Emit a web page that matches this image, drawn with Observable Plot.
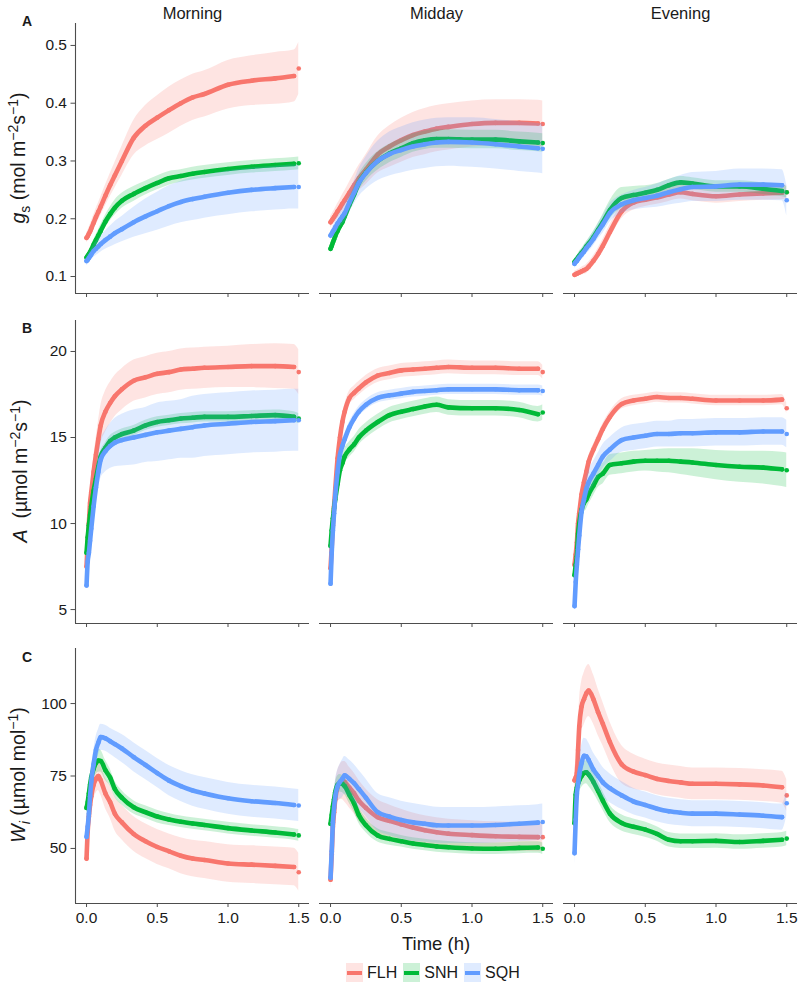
<!DOCTYPE html>
<html>
<head>
<meta charset="utf-8">
<script src="https://cdn.jsdelivr.net/npm/d3@7"></script>
<script src="https://cdn.jsdelivr.net/npm/@observablehq/plot@0.6"></script>
<style>
  body { margin: 0; background: #fff; }
  #fig { position: relative; width: 799px; height: 984px; background: #fff;
         font-family: "Liberation Sans", Arial, Helvetica, sans-serif; color: #1a1a1a; }
  .row { position: absolute; left: 0; }
  .ytitle { position: absolute; left: 19px; white-space: nowrap; font-size: 19.5px;
            transform: translate(-50%, -50%) rotate(-90deg); line-height: 1; }
  .ytitle sup, .ytitle sub { font-size: 0.72em; }
  .letter { position: absolute; left: 22px; font-weight: bold; font-size: 14px; line-height: 1; }
  #xtitle { position: absolute; left: 436px; top: 944px; transform: translate(-50%, -50%);
            font-size: 18.5px; line-height: 1; white-space: nowrap; }
  #legend { position: absolute; left: 346px; top: 963px; display: flex; align-items: center;
            font-size: 16px; line-height: 1; }
  .key { width: 17px; height: 19px; position: relative; margin-right: 4px; }
  .key span { position: absolute; left: 1px; right: 1px; top: 8px; height: 3.5px; }
  .lab { margin-right: 6px; }
</style>
</head>
<body>
<div id="fig">
  <div class="row" id="rowA" style="top:0px"></div>
  <div class="row" id="rowB" style="top:305px"></div>
  <div class="row" id="rowC" style="top:635px"></div>
  <div class="letter" style="top:14px">A</div>
  <div class="letter" style="top:321px">B</div>
  <div class="letter" style="top:650px">C</div>
  <div class="ytitle" style="top:158px"><i>g</i><sub>s</sub> (mol m<sup>−2</sup>s<sup>−1</sup>)</div>
  <div class="ytitle" style="top:471px"><i>A</i>&nbsp; (µmol m<sup>−2</sup>s<sup>−1</sup>)</div>
  <div class="ytitle" style="top:775px"><i>W</i><sub><i>i</i></sub> (µmol mol<sup>−1</sup>)</div>
  <div id="xtitle">Time (h)</div>
  <div id="legend"></div>
</div>
<script>
// ---- time grid (minutes since light change) ----
const minutes = [0,0.5,1,1.5,2,3,4,5,6,8,10,12,15,20,25,30,35,40,45,50,60,70,80,88,90];
const periods = ["Morning","Midday","Evening"];
const genotypes = ["FLH","SNH","SQH"];
const genoColors = ["#F8766D","#00BA38","#619CFF"];
const xTicks = [0, 0.5, 1.0, 1.5];
const gsTicks = [0.1, 0.2, 0.3, 0.4, 0.5];
const aTicks = [5, 10, 15, 20];
const wiTicks = [50, 75, 100];

// ---- gs (mol m-2 s-1) means ----
const gsMorningFLH = [0.167,0.170,0.174,0.178,0.183,0.193,0.203,0.212,0.221,0.240,0.258,0.275,0.300,0.340,0.361,0.375,0.388,0.400,0.410,0.416,0.432,0.439,0.443,0.447,0.460];
const gsMorningSNH = [0.133,0.136,0.139,0.142,0.146,0.155,0.163,0.171,0.179,0.195,0.208,0.219,0.231,0.243,0.253,0.262,0.270,0.274,0.278,0.281,0.286,0.290,0.293,0.295,0.296];
const gsMorningSQH = [0.127,0.129,0.132,0.135,0.138,0.144,0.148,0.152,0.156,0.163,0.169,0.175,0.182,0.194,0.204,0.213,0.222,0.229,0.234,0.238,0.245,0.250,0.253,0.255,0.255];
const gsMiddayFLH = [0.194,0.197,0.200,0.203,0.206,0.213,0.219,0.226,0.232,0.245,0.258,0.270,0.285,0.311,0.325,0.336,0.345,0.351,0.356,0.359,0.364,0.366,0.366,0.365,0.364];
const gsMiddaySNH = [0.148,0.153,0.159,0.164,0.170,0.179,0.187,0.194,0.204,0.224,0.242,0.262,0.280,0.300,0.313,0.322,0.331,0.336,0.338,0.338,0.337,0.337,0.334,0.332,0.331];
const gsMiddaySQH = [0.171,0.174,0.178,0.181,0.185,0.192,0.198,0.204,0.210,0.228,0.245,0.262,0.279,0.300,0.312,0.319,0.325,0.329,0.332,0.333,0.332,0.329,0.325,0.322,0.321];
const gsEveningFLH = [0.103,0.104,0.105,0.106,0.107,0.109,0.111,0.113,0.117,0.127,0.139,0.153,0.177,0.213,0.228,0.233,0.237,0.242,0.246,0.243,0.239,0.242,0.244,0.245,0.246];
const gsEveningSNH = [0.125,0.128,0.130,0.133,0.136,0.141,0.146,0.152,0.157,0.168,0.181,0.194,0.215,0.236,0.241,0.245,0.250,0.258,0.263,0.261,0.256,0.256,0.252,0.248,0.246];
const gsEveningSQH = [0.122,0.125,0.127,0.130,0.133,0.138,0.143,0.149,0.154,0.165,0.178,0.190,0.210,0.225,0.232,0.236,0.240,0.246,0.251,0.255,0.256,0.259,0.259,0.258,0.232];
// ---- gs ribbon half-widths ----
const gsMorningFLHse = [0.008,0.009,0.010,0.011,0.012,0.013,0.014,0.015,0.016,0.018,0.020,0.022,0.025,0.030,0.035,0.038,0.040,0.040,0.040,0.040,0.042,0.043,0.045,0.045,0.045];
const gsMorningSNHse = [0.006,0.006,0.007,0.007,0.008,0.008,0.009,0.009,0.010,0.011,0.012,0.013,0.013,0.013,0.012,0.012,0.012,0.011,0.011,0.011,0.011,0.011,0.011,0.011,0.011];
const gsMorningSQHse = [0.008,0.008,0.009,0.009,0.010,0.011,0.012,0.013,0.014,0.016,0.018,0.020,0.022,0.026,0.030,0.033,0.035,0.036,0.037,0.037,0.038,0.038,0.038,0.038,0.038];
const gsMiddayFLHse = [0.010,0.010,0.011,0.011,0.012,0.013,0.014,0.015,0.016,0.018,0.020,0.022,0.026,0.032,0.036,0.038,0.039,0.040,0.040,0.040,0.040,0.040,0.040,0.040,0.040];
const gsMiddaySNHse = [0.006,0.006,0.007,0.007,0.008,0.009,0.010,0.010,0.011,0.012,0.013,0.014,0.015,0.016,0.016,0.016,0.016,0.016,0.016,0.016,0.016,0.016,0.016,0.016,0.016];
const gsMiddaySQHse = [0.008,0.008,0.009,0.010,0.011,0.012,0.013,0.014,0.016,0.018,0.020,0.024,0.028,0.034,0.038,0.040,0.041,0.042,0.042,0.042,0.043,0.043,0.043,0.043,0.043];
const gsEveningFLHse = [0.006,0.006,0.006,0.006,0.006,0.007,0.007,0.008,0.008,0.009,0.010,0.011,0.012,0.013,0.013,0.012,0.012,0.012,0.012,0.012,0.012,0.012,0.012,0.012,0.012];
const gsEveningSNHse = [0.006,0.006,0.006,0.006,0.007,0.007,0.008,0.008,0.009,0.010,0.011,0.013,0.016,0.018,0.015,0.012,0.011,0.010,0.010,0.010,0.010,0.010,0.010,0.010,0.010];
const gsEveningSQHse = [0.008,0.008,0.008,0.008,0.009,0.009,0.010,0.010,0.011,0.012,0.013,0.015,0.016,0.016,0.017,0.018,0.020,0.022,0.024,0.025,0.026,0.027,0.027,0.027,0.027];

// ---- A (umol m-2 s-1) means ----
const AMorningFLH = [7.5,8.9,10.0,11.2,11.8,13.0,14.0,14.9,15.7,16.5,17.0,17.4,17.8,18.3,18.5,18.7,18.8,18.95,19.0,19.05,19.1,19.15,19.15,19.1,18.8];
const AMorningSNH = [8.3,9.2,9.9,10.5,11.0,11.9,12.6,13.3,13.9,14.4,14.8,15.0,15.2,15.4,15.7,15.9,16.0,16.1,16.15,16.2,16.2,16.25,16.3,16.2,16.1];
const AMorningSQH = [6.4,7.8,8.3,9.0,9.7,11.0,12.1,13.0,13.7,14.2,14.5,14.7,14.85,15.0,15.15,15.3,15.4,15.5,15.6,15.7,15.8,15.9,15.95,16.0,16.0];
const AMiddayFLH = [7.4,8.6,9.9,11.0,12.0,13.8,15.0,15.9,16.5,17.3,17.6,17.85,18.2,18.6,18.75,18.9,18.95,19.0,19.05,19.1,19.05,19.05,19.0,19.0,18.8];
const AMiddaySNH = [8.7,9.6,10.3,10.9,11.4,12.3,13.1,13.5,13.9,14.3,14.6,15.0,15.4,15.9,16.3,16.5,16.65,16.8,16.9,16.75,16.7,16.7,16.6,16.35,16.45];
const AMiddaySQH = [6.5,8.3,9.6,10.6,11.6,13.0,14.0,14.5,14.9,15.6,16.1,16.5,16.9,17.3,17.45,17.55,17.65,17.7,17.75,17.8,17.8,17.8,17.75,17.75,17.7];
const AEveningFLH = [7.6,8.2,8.9,10.0,10.6,11.7,12.4,13.0,13.6,14.3,14.9,15.5,16.2,16.95,17.15,17.25,17.35,17.3,17.3,17.25,17.15,17.15,17.15,17.2,16.7];
const AEveningSNH = [7.0,7.6,8.1,9.4,10.0,10.8,11.2,11.4,11.7,12.2,12.7,12.9,13.4,13.5,13.6,13.65,13.65,13.65,13.6,13.55,13.4,13.3,13.25,13.15,13.1];
const AEveningSQH = [5.2,6.6,7.6,8.5,9.3,10.7,11.4,12.0,12.4,12.9,13.4,13.9,14.3,14.85,15.0,15.1,15.2,15.2,15.25,15.25,15.3,15.3,15.35,15.35,15.2];
// ---- A ribbon half-widths ----
const AMorningFLHse = [0.3,0.4,0.5,0.6,0.7,0.8,0.9,1.0,1.1,1.2,1.2,1.2,1.2,1.2,1.2,1.2,1.2,1.2,1.2,1.2,1.2,1.25,1.3,1.3,1.3];
const AMorningSNHse = [0.2,0.2,0.25,0.25,0.3,0.3,0.3,0.3,0.3,0.3,0.3,0.3,0.3,0.3,0.3,0.3,0.3,0.3,0.3,0.3,0.3,0.3,0.3,0.3,0.3];
const AMorningSQHse = [0.3,0.4,0.5,0.6,0.7,0.8,0.9,1.0,1.1,1.2,1.3,1.4,1.5,1.6,1.6,1.7,1.7,1.7,1.8,1.8,1.8,1.8,1.8,1.8,1.8];
const AMiddayFLHse = [0.2,0.25,0.3,0.3,0.35,0.35,0.4,0.4,0.4,0.4,0.4,0.4,0.4,0.4,0.4,0.4,0.4,0.4,0.4,0.4,0.4,0.4,0.4,0.4,0.4];
const AMiddaySNHse = [0.2,0.25,0.3,0.3,0.35,0.4,0.45,0.45,0.45,0.45,0.45,0.45,0.45,0.45,0.45,0.45,0.45,0.45,0.45,0.45,0.45,0.45,0.45,0.45,0.45];
const AMiddaySQHse = [0.2,0.2,0.25,0.25,0.3,0.3,0.3,0.3,0.3,0.3,0.3,0.3,0.3,0.3,0.3,0.3,0.3,0.3,0.3,0.3,0.3,0.3,0.3,0.3,0.3];
const AEveningFLHse = [0.2,0.2,0.25,0.25,0.3,0.3,0.3,0.3,0.3,0.3,0.3,0.3,0.3,0.3,0.3,0.3,0.3,0.3,0.3,0.3,0.3,0.3,0.3,0.3,0.3];
const AEveningSNHse = [0.3,0.3,0.35,0.4,0.45,0.5,0.55,0.6,0.6,0.6,0.6,0.6,0.6,0.6,0.6,0.6,0.65,0.7,0.75,0.8,0.85,0.9,0.95,1.0,1.0];
const AEveningSQHse = [0.3,0.35,0.4,0.45,0.5,0.55,0.6,0.65,0.7,0.7,0.7,0.7,0.7,0.7,0.75,0.75,0.75,0.75,0.8,0.8,0.8,0.8,0.8,0.8,0.8];

// ---- Wi (umol mol-1) means ----
const WiMorningFLH = [46.5,56,61,65,68,72,74,75,73.5,69,66,62,59,55,52.5,50.5,49,47.5,46.5,46,44.8,44.4,44,43.6,41.8];
const WiMorningSNH = [64,66,69,72,74.5,77.5,79.5,80.3,80.2,77,74.5,70.5,67.5,64.2,62.5,61,60,59.2,58.6,58.1,57,56.2,55.5,54.8,54.5];
const WiMorningSQH = [54,57.5,62,68,73,79,84,86.5,88.4,88,87,86,84.5,81.5,78.8,76,73.4,71.5,70,69,67.3,66.3,65.7,65,64.8];
const WiMiddayFLH = [39.2,48,57.5,62.5,67,71.3,72.8,73.4,73,71,69,66.5,64,60.8,59.5,58.3,57.2,56.3,55.6,55.1,54.6,54.2,54,53.9,53.9];
const WiMiddaySNH = [58.5,61.5,64.5,67,69.4,72,72.5,72.3,71.5,68.5,65.5,61.5,58,54.5,53.3,52.5,51.7,51.2,50.7,50.4,50,49.9,50.2,50.3,49.9];
const WiMiddaySQH = [39.9,49,59,64,68,71.5,73,74,75.2,74,72.5,70.5,67.5,62.5,61,59.8,59,58.5,58,57.9,57.9,58.1,58.5,58.9,59.1];
const WiEveningFLH = [73.5,74.5,76,84,92,99,101.5,103.5,104.5,101.5,97,93,86.7,79,76.5,75.3,74,73.3,72.8,72.3,72.3,72.1,71.7,71.1,68.3];
const WiEveningSNH = [58.7,68.5,71,72.5,73.5,75,76,76.3,75.5,73,69.8,66.5,62,58.8,57.5,56.5,55,53,52.5,52.5,52.6,52.2,52.6,53,53.4];
const WiEveningSQH = [48.4,60,68.9,72.3,75.5,79.5,82,81.8,80.5,77.2,75,72.8,70.8,68.3,66.2,65,63.7,62.8,62.3,62,62,61.7,61.3,60.8,65.6];
// ---- Wi ribbon half-widths ----
const WiMorningFLHse = [3,3.5,4,4.5,5,5,5,5,5,5.2,5.5,5.8,6,6,6,6,6,6.2,6.3,6.4,6.5,6.5,6.5,6.5,6.5];
const WiMorningSNHse = [2,2,2.5,3,3.5,4,4,4,3.8,3.5,3,2.8,2.5,2.3,2.2,2.2,2.1,2,2,2,2,2,2,2,2];
const WiMorningSQHse = [3,3,3.5,4,4,4.5,4.5,4.5,4.5,4.5,4.5,4.6,4.8,5,5,5,5.2,5.3,5.4,5.5,5.5,5.5,5.5,5.5,5.5];
const WiMiddayFLHse = [3,3.5,4,4.5,5,5.5,6,6.5,7,7,7,7,6.5,6,5.5,5.2,5,5,5,5,5,5,5,5,5];
const WiMiddaySNHse = [2,2,2.5,2.5,3,3,3,3,3,3,3,2.8,2.5,2.3,2.2,2,2,2,2,2,2,2,2,2,2];
const WiMiddaySQHse = [3,3.5,4,4.5,5,5.5,6,6.5,6.5,6.5,6.5,6.5,6.5,6.5,6.5,6.5,6.5,6.3,6.2,6.2,6.2,6.2,6.2,6.2,6.2];
const WiEveningFLHse = [4,5,6,7,8,8.5,9,9,9,8.5,8,7.5,7,6.5,6,5.5,5.5,5.5,5.5,5.5,5.5,5.5,5.5,5.5,5.5];
const WiEveningSNHse = [3,3,3.5,3.5,4,4,4,4,4,3.8,3.5,3.2,3,2.8,2.7,2.6,2.5,2.5,2.5,2.5,2.5,2.5,2.5,2.5,2.5];
const WiEveningSQHse = [4,4.5,5,5.5,6,6,6,6,6,5.8,5.5,5.2,5,4.8,4.6,4.5,4.5,4.5,4.5,4.5,4.5,4.5,4.5,4.5,4.5];

// ---- tables built from the arrays ----
const tables = {
  gs: {Morning: [[gsMorningFLH,gsMorningFLHse],[gsMorningSNH,gsMorningSNHse],[gsMorningSQH,gsMorningSQHse]],
       Midday:  [[gsMiddayFLH,gsMiddayFLHse],[gsMiddaySNH,gsMiddaySNHse],[gsMiddaySQH,gsMiddaySQHse]],
       Evening: [[gsEveningFLH,gsEveningFLHse],[gsEveningSNH,gsEveningSNHse],[gsEveningSQH,gsEveningSQHse]]},
  A:  {Morning: [[AMorningFLH,AMorningFLHse],[AMorningSNH,AMorningSNHse],[AMorningSQH,AMorningSQHse]],
       Midday:  [[AMiddayFLH,AMiddayFLHse],[AMiddaySNH,AMiddaySNHse],[AMiddaySQH,AMiddaySQHse]],
       Evening: [[AEveningFLH,AEveningFLHse],[AEveningSNH,AEveningSNHse],[AEveningSQH,AEveningSQHse]]},
  Wi: {Morning: [[WiMorningFLH,WiMorningFLHse],[WiMorningSNH,WiMorningSNHse],[WiMorningSQH,WiMorningSQHse]],
       Midday:  [[WiMiddayFLH,WiMiddayFLHse],[WiMiddaySNH,WiMiddaySNHse],[WiMiddaySQH,WiMiddaySQHse]],
       Evening: [[WiEveningFLH,WiEveningFLHse],[WiEveningSNH,WiEveningSNHse],[WiEveningSQH,WiEveningSQHse]]}
};

function rowsFor(variable) {
  const out = [];
  for (const period of periods) {
    tables[variable][period].forEach(([mean, se], gi) => {
      minutes.forEach((m, i) => out.push({
        min: m, t: m / 60, v: mean[i], lo: mean[i] - se[i], hi: mean[i] + se[i],
        period, geno: genotypes[gi]
      }));
    });
  }
  return out;
}

const xDomain = [-0.078, 1.576];
const axisColor = "#4d4d4d";
const textColor = "#1a1a1a";

function rowPlot({variable, yDomain, yTicks, yFormat, height, mt, mb, xLabels, strip}) {
  const rows = rowsFor(variable);
  const marks = [];
  genotypes.forEach(g => {
    const d = rows.filter(r => r.geno === g);
    marks.push(Plot.areaY(d, {x: "t", y1: "lo", y2: "hi", fx: "period", fill: "geno", fillOpacity: 0.2, curve: "monotone-x"}));
    marks.push(Plot.line(d.filter(r => r.min <= 88),
      {x: "t", y: "v", fx: "period", z: "period", stroke: "geno", strokeWidth: 4.6,
       strokeLinecap: "round", strokeLinejoin: "round", curve: "monotone-x"}));
    marks.push(Plot.dot(d, {x: "t", y: "v", fx: "period", fill: "geno", r: 2.3}));
  });
  const frames = periods.map(p => ({period: p}));
  marks.push(Plot.ruleY(frames, {fx: "period", y: () => yDomain[0], stroke: axisColor, strokeWidth: 1.1}));
  marks.push(Plot.ruleX([{period: "Morning"}], {fx: "period", x: () => xDomain[0], stroke: axisColor, strokeWidth: 1.1}));
  marks.push(Plot.axisX({ticks: xTicks, tickSize: 4, tickPadding: 4, label: null, stroke: axisColor, fill: textColor,
    fontSize: 15.5, tickFormat: xLabels ? d3.format(".1f") : () => ""}));
  marks.push(Plot.axisY({ticks: yTicks, tickSize: 4.5, tickPadding: 4, label: null, stroke: axisColor, fill: textColor,
    fontSize: 15.5, tickFormat: yFormat}));
  if (strip) marks.push(Plot.axisFx({anchor: "top", label: null, tickSize: 0, tickPadding: 5, fontSize: 16.5, fill: textColor}));
  return Plot.plot({
    width: 799, height, marginLeft: 75, marginRight: 2, marginTop: mt, marginBottom: mb,
    style: {background: "transparent", fontFamily: "Liberation Sans, Arial, Helvetica, sans-serif", overflow: "visible"},
    fx: {domain: periods, paddingInner: 0.042, paddingOuter: 0, label: null, axis: strip ? undefined : null},
    x: {domain: xDomain},
    y: {domain: yDomain},
    color: {domain: genotypes, range: genoColors},
    marks
  });
}

document.getElementById("rowA").append(rowPlot({variable: "gs", yDomain: [0.0706, 0.538], yTicks: gsTicks,
  yFormat: d3.format(".1f"), height: 305, mt: 23, mb: 12, xLabels: false, strip: true}));
document.getElementById("rowB").append(rowPlot({variable: "A", yDomain: [4.19, 21.8], yTicks: aTicks,
  yFormat: d3.format("d"), height: 330, mt: 15, mb: 12, xLabels: false, strip: false}));
document.getElementById("rowC").append(rowPlot({variable: "Wi", yDomain: [31.0, 119.0], yTicks: wiTicks,
  yFormat: d3.format("d"), height: 300, mt: 13, mb: 32, xLabels: true, strip: false}));

// legend
const legend = document.getElementById("legend");
genotypes.forEach((g, i) => {
  const c = d3.color(genoColors[i]);
  const light = d3.color(genoColors[i]); light.opacity = 0.2;
  const key = document.createElement("div");
  key.className = "key";
  key.style.background = light.formatRgb();
  const bar = document.createElement("span");
  bar.style.background = c.formatHex();
  key.append(bar);
  const lab = document.createElement("div");
  lab.className = "lab";
  lab.textContent = g;
  legend.append(key, lab);
});
</script>
</body>
</html>
